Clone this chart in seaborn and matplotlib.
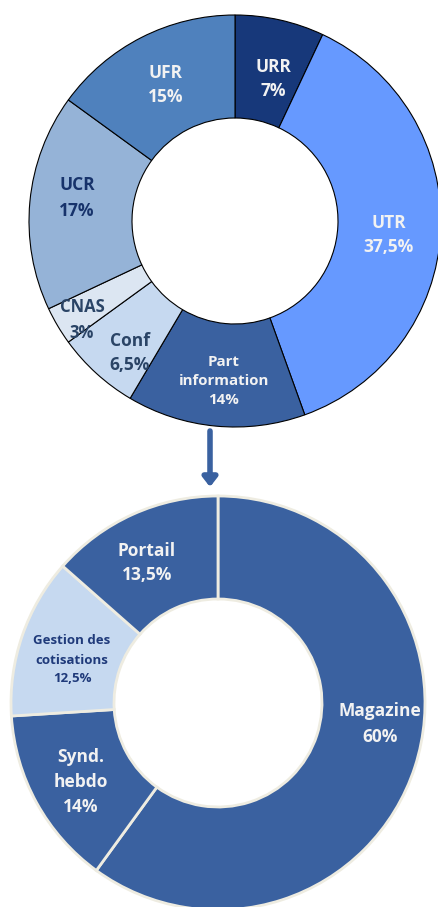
import matplotlib
matplotlib.use("Agg")
import matplotlib.pyplot as plt
import seaborn as sns

# top donut: share of each structure, clockwise from 12 o'clock
top_labels = ["URR\n7%", "UTR\n37,5%", "Part\ninformation\n14%", "Conf\n6,5%",
              "CNAS\n3%", "UCR\n17%", "UFR\n15%"]
top_values = [7, 37.5, 14, 6.5, 3, 17, 15]
top_colors = ["#17387A", "#6699FF", "#3A61A0", "#C6D9F0", "#DCE6F2", "#95B3D7", "#4F81BD"]
top_text_colors = ["#F2F2F2", "#F2F2F2", "#F2F2F2", "#2A4466", "#2A4466", "#17336B", "#F2F2F2"]

# bottom donut: breakdown of "Part information"
bottom_labels = ["Magazine\n60%", "Synd.\nhebdo\n14%", "Gestion des\ncotisations\n12,5%", "Portail\n13,5%"]
bottom_values = [60, 14, 12.5, 13.5]
bottom_colors = ["#3A61A0", "#3A61A0", "#C6D9F0", "#3A61A0"]
bottom_text_colors = ["#F2F2F2", "#F2F2F2", "#1F3A7A", "#F2F2F2"]

sns.set_theme(style="white")
plt.rcParams["font.family"] = ["Open Sans", "DejaVu Sans"]

W, H = 438, 907
fig = plt.figure(figsize=(W / 100, H / 100), dpi=100)
ax = fig.add_axes([0, 0, 1, 1])

# top donut (pixel coords, y up)
top_c = (235, H - 221)
ax.pie(top_values, colors=top_colors, startangle=90, counterclock=False,
       radius=206, center=top_c,
       wedgeprops=dict(width=103, edgecolor="black", linewidth=0.8))

bot_c = (218, H - 703)
ax.pie(bottom_values, colors=bottom_colors, startangle=90, counterclock=False,
       radius=207, center=bot_c,
       wedgeprops=dict(width=103, edgecolor="#EEECE1", linewidth=2))

# label placement (pixel positions of text centres, from top of image)
top_pos = [(273, 79), (389, 235), (224, 381), (130, 353), (82, 320), (77, 198), (166, 85)]
top_size = [12.5, 12.5, 10.8, 12.5, 12, 12.5, 12.5]
top_ls = [1.5, 1.5, 1.42, 1.5, 1.5, 1.5, 1.5]
for lab, (x, y), fs, col, ls in zip(top_labels, top_pos, top_size, top_text_colors, top_ls):
    ax.text(x, H - y, lab, ha="center", va="center", fontsize=fs, color=col,
            fontweight="bold", linespacing=ls)

bot_pos = [(380, 724), (81, 782), (72, 660), (147, 563)]
bot_size = [12.5, 12.5, 9.5, 12.5]
bot_ls = [1.5, 1.5, 1.6, 1.5]
for lab, (x, y), fs, col, ls in zip(bottom_labels, bot_pos, bot_size, bottom_text_colors, bot_ls):
    ax.text(x, H - y, lab, ha="center", va="center", fontsize=fs, color=col,
            fontweight="bold", linespacing=ls)

# arrow linking "Part information" to its breakdown
ax.annotate("", xy=(210, H - 487), xytext=(210, H - 431),
            arrowprops=dict(arrowstyle="-|>,head_width=0.35,head_length=0.45",
                            color="#3A61A0", lw=4, shrinkA=0, shrinkB=0))

ax.set_xlim(0, W)
ax.set_ylim(0, H)
ax.set_aspect("equal")
ax.axis("off")

fig.savefig("out.png", dpi=100, facecolor="white")
